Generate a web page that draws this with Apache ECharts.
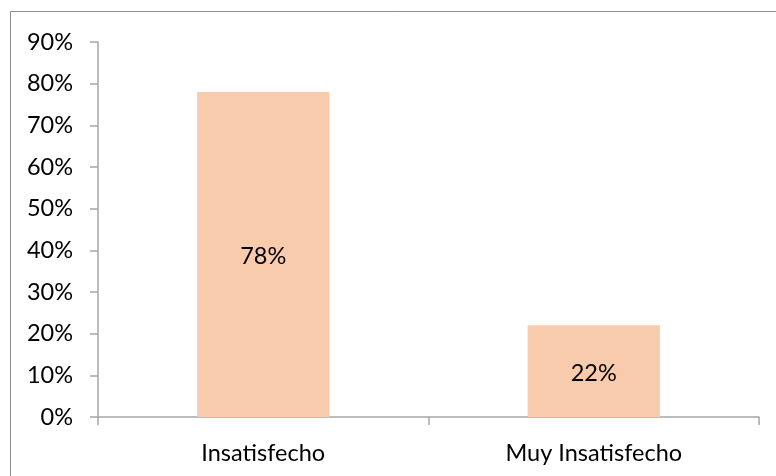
<!DOCTYPE html>
<html>
<head>
<meta charset="utf-8">
<script src="https://cdn.jsdelivr.net/npm/echarts@6/dist/echarts.min.js"></script>
<style>
  html, body { margin: 0; padding: 0; background: #fff; }
  #chart { width: 776px; height: 476px; }
</style>
</head>
<body>
<div id="chart"></div>
<script>
const categories = ['Insatisfecho', 'Muy Insatisfecho'];
const shares = [78, 22];
const yTicks = [0, 10, 20, 30, 40, 50, 60, 70, 80, 90];

const FONT = 'Lato';
const SIZE = 23.5;
const chart = echarts.init(document.getElementById('chart'), null, { renderer: 'canvas' });

chart.setOption({
  animation: false,
  backgroundColor: '#ffffff',
  graphic: [{
    type: 'rect',
    shape: { x: 10.5, y: 11.5, width: 900, height: 600 },
    style: { fill: 'none', stroke: '#8c8c8c', lineWidth: 1 },
    silent: true
  }],
  grid: { left: 98, right: 17, top: 42, bottom: 59 },
  xAxis: {
    type: 'category',
    data: categories,
    axisLine: { lineStyle: { color: '#a6a6a6', width: 1.5 } },
    axisTick: { show: true, length: 8, alignWithLabel: false, lineStyle: { color: '#a6a6a6', width: 1.5 } },
    axisLabel: { color: '#000', fontFamily: FONT, fontSize: SIZE, margin: 24 }
  },
  yAxis: {
    type: 'value',
    min: yTicks[0],
    max: yTicks[yTicks.length - 1],
    interval: 10,
    splitLine: { show: false },
    axisLine: { show: true, lineStyle: { color: '#a6a6a6', width: 1.5 } },
    axisTick: { show: true, length: 8, lineStyle: { color: '#a6a6a6', width: 1.5 } },
    axisLabel: { color: '#000', fontFamily: FONT, fontSize: SIZE, margin: 25, formatter: v => v + '%' }
  },
  series: [{
    type: 'bar',
    data: shares,
    barCategoryGap: '60%',
    itemStyle: { color: '#f8cbad' },
    label: {
      show: true,
      position: 'inside',
      offset: [0, 2],
      color: '#000',
      fontFamily: FONT,
      fontSize: SIZE,
      formatter: p => p.value + '%'
    }
  }]
});
</script>
</body>
</html>
